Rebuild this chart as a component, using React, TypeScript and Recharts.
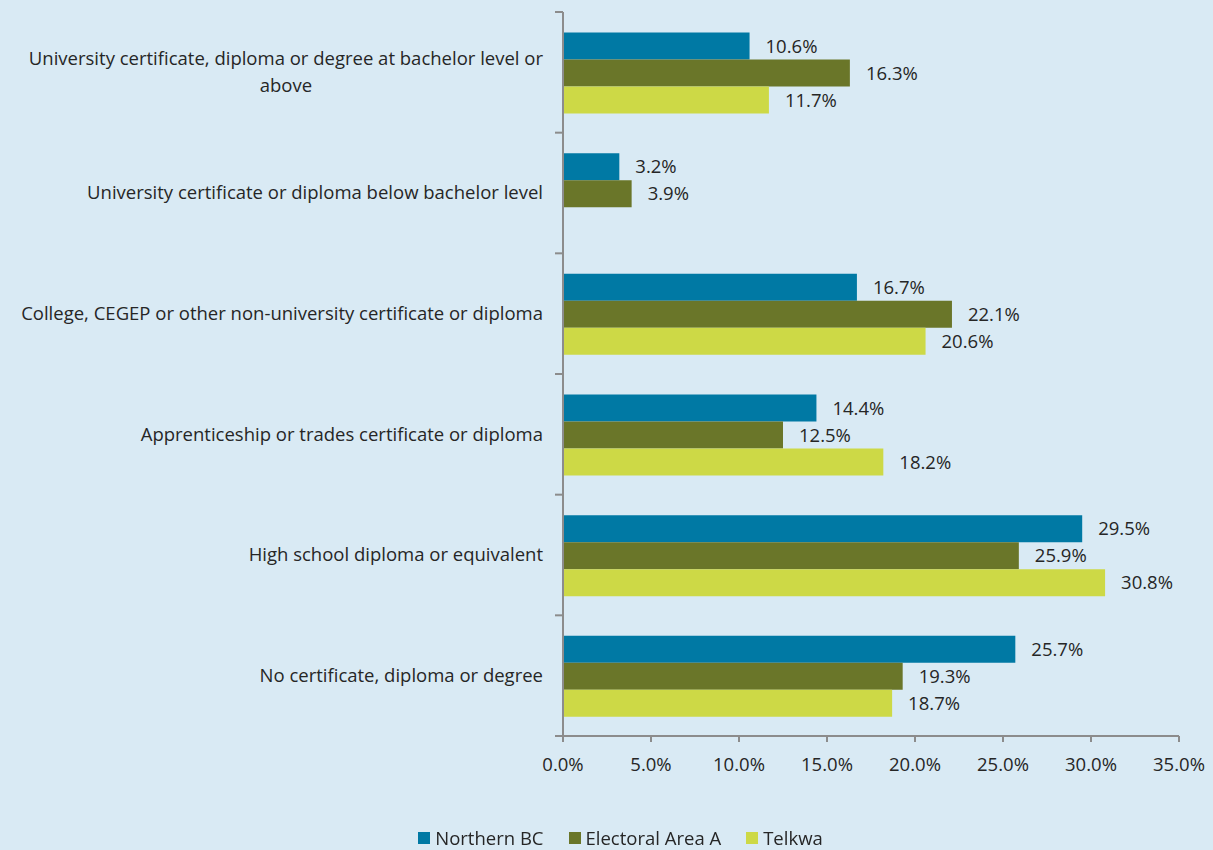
import { BarChart, Bar, XAxis, YAxis, Legend, LabelList } from "recharts";

const categories = [
  "University certificate, diploma or degree at bachelor level or above",
  "University certificate or diploma below bachelor level",
  "College, CEGEP or other non-university certificate or diploma",
  "Apprenticeship or trades certificate or diploma",
  "High school diploma or equivalent",
  "No certificate, diploma or degree",
];
const northernBC = [10.6, 3.2, 16.7, 14.4, 29.5, 25.7];
const electoralAreaA = [16.3, 3.9, 22.1, 12.5, 25.9, 19.3];
const telkwa = [11.7, null, 20.6, 18.2, 30.8, 18.7];
const xTicks = [0, 5, 10, 15, 20, 25, 30, 35];

const series = [
  { key: "northernBC", name: "Northern BC", color: "#0079a4" },
  { key: "electoralAreaA", name: "Electoral Area A", color: "#6a7629" },
  { key: "telkwa", name: "Telkwa", color: "#cdd946" },
];

const data = categories.map((category, i) => ({
  category,
  northernBC: northernBC[i],
  electoralAreaA: electoralAreaA[i],
  telkwa: telkwa[i],
}));

const FONT = "'Open Sans', sans-serif";
const FS = 18.5;
const TEXT = "#262626";
const AXIS = "#8c8c8c";
const W = 1213;
const H = 850;
const MARGIN = { top: 12, right: 34, bottom: 44, left: 0 };
const Y_WIDTH = 563;
const X_HEIGHT = 45;
const LEGEND_H = 25;
const PLOT_H = H - MARGIN.top - MARGIN.bottom - X_HEIGHT - LEGEND_H;

let ctx: CanvasRenderingContext2D | null = null;
function measure(s: string) {
  if (!ctx) ctx = document.createElement("canvas").getContext("2d");
  if (!ctx) return s.length * 9;
  ctx.font = `${FS}px ${FONT}`;
  return ctx.measureText(s).width;
}

function wrap(label: string, max: number) {
  const lines: string[] = [];
  let cur = "";
  for (const w of label.split(" ")) {
    const next = cur ? cur + " " + w : w;
    if (measure(next) > max && cur) {
      lines.push(cur);
      cur = w;
    } else cur = next;
  }
  if (cur) lines.push(cur);
  return lines;
}

function CategoryTick(props: any) {
  const { x, y, payload, index } = props;
  const band = PLOT_H / categories.length;
  const axisX = x + 8;
  const right = axisX - 20;
  const lines = wrap(payload.value, 541);
  const block = Math.max(...lines.map(measure));
  const lh = 27;
  const startY = y - ((lines.length - 1) * lh) / 2;
  return (
    <g>
      <line x1={axisX - 8} x2={axisX} y1={y - band / 2} y2={y - band / 2} stroke={AXIS} strokeWidth={2} />
      {index === categories.length - 1 && (
        <line x1={axisX - 8} x2={axisX} y1={y + band / 2} y2={y + band / 2} stroke={AXIS} strokeWidth={2} />
      )}
      {lines.map((line, i) => (
        <text
          key={i}
          x={lines.length > 1 ? right - block / 2 : right}
          y={startY + i * lh}
          dy="0.35em"
          textAnchor={lines.length > 1 ? "middle" : "end"}
          fill={TEXT}
          fontSize={FS}
          fontFamily={FONT}
        >
          {line}
        </text>
      ))}
    </g>
  );
}

function LegendContent() {
  return (
    <div style={{ display: "flex", justifyContent: "center", gap: 25, fontFamily: FONT, fontSize: FS, color: TEXT }}>
      {series.map((s) => (
        <span key={s.key} style={{ display: "inline-flex", alignItems: "center", gap: 5 }}>
          <span style={{ width: 12, height: 12, background: s.color, display: "inline-block" }} />
          {s.name}
        </span>
      ))}
    </div>
  );
}

export default function App() {
  return (
    <div style={{ position: "fixed", left: 0, top: 0, width: W, height: H, background: "#d9eaf4" }}>
      <BarChart
        width={W}
        height={H}
        data={data}
        layout="vertical"
        margin={MARGIN}
        barCategoryGap="17%"
        barGap={0}
      >
        <XAxis
          type="number"
          domain={[0, 35]}
          ticks={xTicks}
          tickFormatter={(v: number) => v.toFixed(1) + "%"}
          height={X_HEIGHT}
          stroke={AXIS}
          strokeWidth={2}
          tickSize={6}
          tickMargin={16}
          tick={{ fill: TEXT, fontSize: FS, fontFamily: FONT }}
        />
        <YAxis
          type="category"
          dataKey="category"
          width={Y_WIDTH}
          stroke={AXIS}
          strokeWidth={2}
          tickLine={false}
          interval={0}
          tick={<CategoryTick />}
        />
        <Legend
          verticalAlign="bottom"
          height={LEGEND_H}
          content={<LegendContent />}
          wrapperStyle={{ bottom: 0, left: 14, width: W }}
        />
        {series.map((s) => (
          <Bar key={s.key} dataKey={s.key} name={s.name} fill={s.color} isAnimationActive={false}>
            <LabelList
              dataKey={s.key}
              position="right"
              offset={16}
              fill={TEXT}
              fontSize={FS}
              fontFamily={FONT}
              formatter={(v: any) => (v == null ? "" : Number(v).toFixed(1) + "%")}
            />
          </Bar>
        ))}
      </BarChart>
    </div>
  );
}
